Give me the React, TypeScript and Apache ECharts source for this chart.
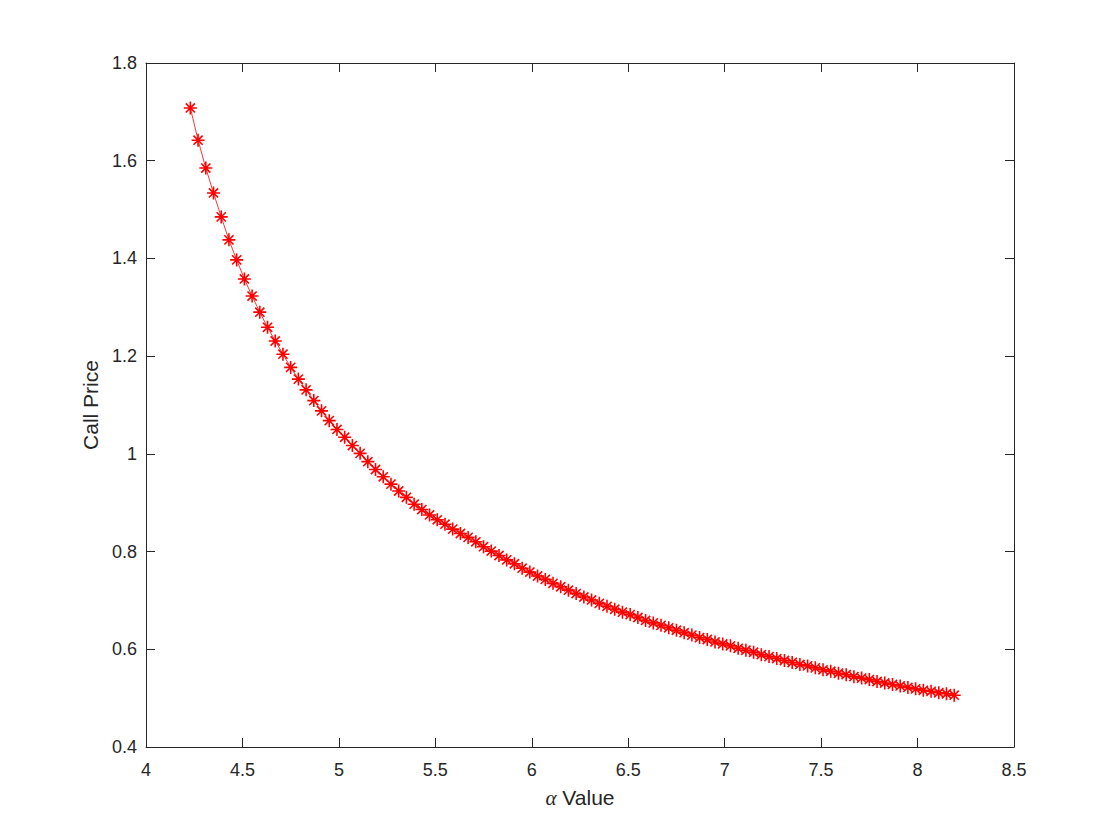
import React, { useEffect, useRef } from "react";
import * as echarts from "echarts";

const alphaValues: number[] = [
  4.23, 4.27, 4.31, 4.35, 4.39, 4.43, 4.47, 4.51, 4.55, 4.59,
  4.63, 4.67, 4.71, 4.75, 4.79, 4.83, 4.87, 4.91, 4.95, 4.99,
  5.03, 5.07, 5.11, 5.15, 5.19, 5.23, 5.27, 5.31, 5.35, 5.39,
  5.43, 5.47, 5.51, 5.55, 5.59, 5.63, 5.67, 5.71, 5.75, 5.79,
  5.83, 5.87, 5.91, 5.95, 5.99, 6.03, 6.07, 6.11, 6.15, 6.19,
  6.23, 6.27, 6.31, 6.35, 6.39, 6.43, 6.47, 6.51, 6.55, 6.59,
  6.63, 6.67, 6.71, 6.75, 6.79, 6.83, 6.87, 6.91, 6.95, 6.99,
  7.03, 7.07, 7.11, 7.15, 7.19, 7.23, 7.27, 7.31, 7.35, 7.39,
  7.43, 7.47, 7.51, 7.55, 7.59, 7.63, 7.67, 7.71, 7.75, 7.79,
  7.83, 7.87, 7.91, 7.95, 7.99, 8.03, 8.07, 8.11, 8.15, 8.19,
];

const callPrices: number[] = [
  1.708, 1.642, 1.585, 1.534, 1.485, 1.438, 1.397, 1.358, 1.323, 1.29,
  1.259, 1.231, 1.204, 1.177, 1.153, 1.131, 1.109, 1.088, 1.068, 1.05,
  1.034, 1.017, 1.001, 0.984, 0.968, 0.953, 0.938, 0.924, 0.911, 0.897,
  0.886, 0.875, 0.865, 0.856, 0.846, 0.837, 0.829, 0.82, 0.81, 0.801,
  0.792, 0.783, 0.775, 0.766, 0.758, 0.75, 0.743, 0.735, 0.728, 0.721,
  0.714, 0.707, 0.701, 0.694, 0.688, 0.682, 0.676, 0.671, 0.665, 0.659,
  0.654, 0.649, 0.644, 0.639, 0.634, 0.629, 0.624, 0.62, 0.615, 0.611,
  0.607, 0.602, 0.598, 0.594, 0.589, 0.585, 0.581, 0.577, 0.573, 0.569,
  0.566, 0.562, 0.558, 0.555, 0.551, 0.548, 0.544, 0.541, 0.538, 0.534,
  0.531, 0.528, 0.525, 0.522, 0.519, 0.516, 0.514, 0.511, 0.509, 0.506,
];

const xMin = 4;
const xMax = 8.5;
const xStep = 0.5;
const yMin = 0.4;
const yMax = 1.8;
const yStep = 0.2;

const AXIS_COLOR = "#262626";
const FONT = "'Liberation Sans', Arial, Helvetica, sans-serif";

const ASTERISK =
  "path://M0,-10L0,10M-10,0L10,0M-7.07,-7.07L7.07,7.07M-7.07,7.07L7.07,-7.07";

export default function App() {
  const ref = useRef<HTMLDivElement>(null);

  useEffect(() => {
    if (!ref.current) return;
    const chart = echarts.init(ref.current, undefined, { renderer: "svg" });
    const points = alphaValues.map((a, i) => [a, callPrices[i]]);

    const axisCommon = {
      axisLine: { show: true, onZero: false, lineStyle: { color: AXIS_COLOR, width: 1 } },
      axisTick: { show: true, inside: true, length: 9, lineStyle: { color: AXIS_COLOR, width: 1 } },
      splitLine: { show: false },
    };

    chart.setOption({
      animation: false,
      backgroundColor: "#ffffff",
      grid: { left: 146, right: 106, top: 63, bottom: 93, containLabel: false },
      xAxis: [
        {
          type: "value",
          min: xMin,
          max: xMax,
          interval: xStep,
          position: "bottom",
          ...axisCommon,
          axisLabel: {
            color: AXIS_COLOR,
            fontSize: 18,
            fontFamily: FONT,
            margin: 14,
          },
          name: "{a|α} Value",
          nameLocation: "middle",
          nameGap: 40,
          nameTextStyle: {
            color: AXIS_COLOR,
            fontSize: 21,
            fontFamily: FONT,
            rich: {
              a: {
                fontFamily: "'Liberation Serif', 'DejaVu Serif', serif",
                fontStyle: "italic",
                fontSize: 21,
                color: AXIS_COLOR,
              },
            },
          },
        },
        {
          type: "value",
          min: xMin,
          max: xMax,
          interval: xStep,
          position: "top",
          ...axisCommon,
          axisLabel: { show: false },
        },
      ],
      yAxis: [
        {
          type: "value",
          min: yMin,
          max: yMax,
          interval: yStep,
          position: "left",
          ...axisCommon,
          axisLabel: {
            color: AXIS_COLOR,
            fontSize: 18,
            fontFamily: FONT,
            margin: 9,
            formatter: (v: number) => String(Math.round(v * 10) / 10),
          },
          name: "Call Price",
          nameLocation: "middle",
          nameGap: 43,
          nameTextStyle: { color: AXIS_COLOR, fontSize: 21, fontFamily: FONT },
        },
        {
          type: "value",
          min: yMin,
          max: yMax,
          interval: yStep,
          position: "right",
          ...axisCommon,
          axisLabel: { show: false },
        },
      ],
      series: [
        {
          type: "line",
          xAxisIndex: 0,
          yAxisIndex: 0,
          data: points,
          symbol: ASTERISK,
          symbolSize: 13,
          showAllSymbol: true,
          lineStyle: { color: "#ff0000", width: 0.8 },
          itemStyle: { color: "#ff0000", borderColor: "#ff0000", borderWidth: 1.6 },
          emphasis: { disabled: true },
        },
      ],
    });

    return () => chart.dispose();
  }, []);

  return (
    <div
      ref={ref}
      style={{ position: "fixed", left: 0, top: 0, width: 1120, height: 840, background: "#fff" }}
    />
  );
}
